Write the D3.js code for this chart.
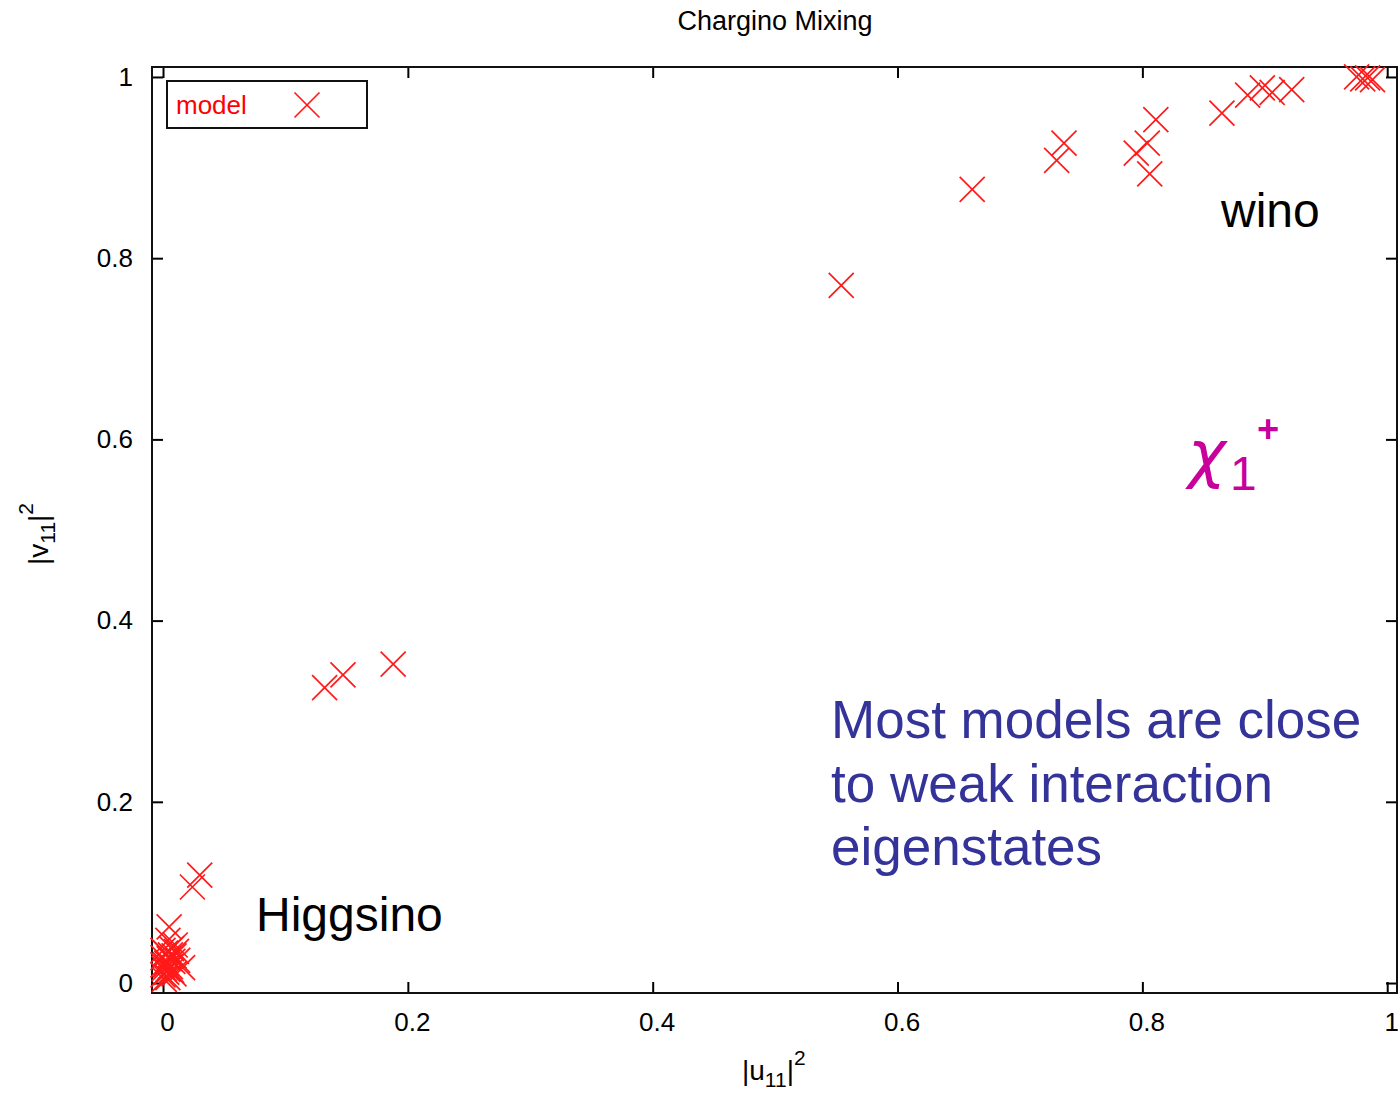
<!DOCTYPE html>
<html lang="en">
<head>
    <meta charset="UTF-8">
    <title>Chargino Mixing</title>
    <script src="https://d3js.org/d3.v7.min.js"></script>
    <style>
        body {
        margin:0;
        background:#fff;
        }
        svg {
        position:absolute;
        top:0px;
        left:0px;
        }
        .tick text {
        font-family:"Liberation Sans", Arial, sans-serif;
        font-size:26px;
        fill:#000;
        }
        .tick line {
        stroke:#000;
        stroke-width:2;
        }
    </style>
</head>
<body>
<svg width="1398" height="1094"></svg>
<script>
    // |u11|^2 and |v11|^2 for each model
    var u11sq = [0.554, 0.661, 0.730, 0.736, 0.795, 0.804, 0.806, 0.811,
                 0.865, 0.886, 0.898, 0.906, 0.922, 0.975, 0.980, 0.984, 0.988,
                 0.132, 0.147, 0.188,
                 0.030, 0.024, 0.005, 0.004, 0.010, 0.000, 0.012, 0.002,
                 0.007, 0.000, 0.006, 0.016, 0.000, 0.004, 0.009, 0.003,
                 0.001, 0.008, 0.011, 0.003, 0.006, 0.000, 0.005, 0.002,
                 0.009, 0.004, 0.007, 0.001];
    var v11sq = [0.770, 0.876, 0.908, 0.927, 0.916, 0.927, 0.893, 0.953,
                 0.960, 0.980, 0.988, 0.983, 0.986, 1.000, 0.998, 0.999, 0.997,
                 0.326, 0.340, 0.352,
                 0.119, 0.106, 0.062, 0.047, 0.042, 0.036, 0.025, 0.020,
                 0.014, 0.028, 0.031, 0.017, 0.009, 0.006, 0.030, 0.022,
                 0.016, 0.024, 0.035, 0.012, 0.018, 0.020, 0.027, 0.033,
                 0.010, 0.015, 0.038, 0.004];
    var tickValues = [0, 0.2, 0.4, 0.6, 0.8, 1];
    var tickLabels = ["0", "0.2", "0.4", "0.6", "0.8", "1"];

    var svg = d3.select('svg');
    var margin = {top: 67, right: 1, bottom: 101, left: 152};
    var width = 1398 - margin.left - margin.right;
    var height = 1094 - margin.top - margin.bottom;

    var g = svg.append("g")
        .attr("transform", "translate(" + margin.left + "," + margin.top + ")");

    var x = d3.scaleLinear().domain([-0.009, 1.008]).range([0, width]);
    var y = d3.scaleLinear().domain([-0.011, 1.011]).range([height, 0]);

    var fmt = function(d) { return tickLabels[tickValues.indexOf(d)]; };

    // gnuplot style: ticks point inward on all four sides
    g.append("g")
        .attr("transform", "translate(0," + height + ")")
        .call(d3.axisBottom(x).tickValues(tickValues).tickFormat(fmt)
            .tickSizeInner(-11).tickSizeOuter(0).tickPadding(20))
        .selectAll("text").attr("dx", 4);
    g.append("g")
        .call(d3.axisTop(x).tickValues(tickValues).tickFormat("")
            .tickSizeInner(-11).tickSizeOuter(0));
    g.append("g")
        .call(d3.axisLeft(y).tickValues(tickValues).tickFormat(fmt)
            .tickSizeInner(-11).tickSizeOuter(0).tickPadding(19));
    g.append("g")
        .attr("transform", "translate(" + width + ",0)")
        .call(d3.axisRight(y).tickValues(tickValues).tickFormat("")
            .tickSizeInner(-11).tickSizeOuter(0));
    g.selectAll(".domain").remove();

    g.append("rect")
        .attr("width", width)
        .attr("height", height)
        .attr("fill", "none")
        .attr("stroke", "#111")
        .attr("stroke-width", 2);

    // crosses
    var h = 12.5;
    var cross = "M" + (-h) + "," + (-h) + "L" + h + "," + h + "M" + (-h) + "," + h + "L" + h + "," + (-h);
    g.append("g")
        .selectAll("path")
        .data(d3.range(u11sq.length))
        .enter()
        .append("path")
        .attr("d", cross)
        .attr("transform", function(i) { return "translate(" + x(u11sq[i]) + "," + y(v11sq[i]) + ")"; })
        .attr("fill", "none")
        .attr("stroke", "#ff1a1a")
        .attr("stroke-width", 1.7);

    // legend
    svg.append("rect")
        .attr("x", 167).attr("y", 81)
        .attr("width", 200).attr("height", 47)
        .attr("fill", "none")
        .attr("stroke", "#111")
        .attr("stroke-width", 2);
    svg.append("text")
        .attr("x", 176).attr("y", 114)
        .attr("font-family", "Liberation Sans, Arial, sans-serif")
        .attr("font-size", 26)
        .attr("fill", "#ff0000")
        .text("model");
    svg.append("path")
        .attr("d", cross)
        .attr("transform", "translate(307,105)")
        .attr("fill", "none")
        .attr("stroke", "#ff1a1a")
        .attr("stroke-width", 1.7);

    // title
    svg.append("text")
        .attr("x", 775).attr("y", 30)
        .attr("text-anchor", "middle")
        .attr("font-family", "Liberation Sans, Arial, sans-serif")
        .attr("font-size", 27)
        .text("Chargino Mixing");

    // axis labels
    var xl = svg.append("text")
        .attr("x", 742).attr("y", 1080)
        .attr("font-family", "Liberation Sans, Arial, sans-serif")
        .attr("font-size", 28);
    xl.append("tspan").text("|u");
    xl.append("tspan").attr("font-size", 21).attr("dy", 7).text("11");
    xl.append("tspan").attr("dy", -7).text("|");
    xl.append("tspan").attr("font-size", 21).attr("dy", -15).text("2");

    var yl = svg.append("text")
        .attr("transform", "translate(48,565) rotate(-90)")
        .attr("font-family", "Liberation Sans, Arial, sans-serif")
        .attr("font-size", 28);
    yl.append("tspan").text("|v");
    yl.append("tspan").attr("font-size", 21).attr("dy", 7).text("11");
    yl.append("tspan").attr("dy", -7).text("|");
    yl.append("tspan").attr("font-size", 21).attr("dy", -15).text("2");

    // annotations
    svg.append("text")
        .attr("x", 1221).attr("y", 227)
        .attr("font-family", "Liberation Sans, Arial, sans-serif")
        .attr("font-size", 48)
        .text("wino");
    svg.append("text")
        .attr("x", 256).attr("y", 931)
        .attr("font-family", "Liberation Sans, Arial, sans-serif")
        .attr("font-size", 48)
        .text("Higgsino");

    var chi = svg.append("text")
        .attr("x", 1188).attr("y", 476)
        .attr("font-family", "DejaVu Sans, sans-serif")
        .attr("fill", "#c8009c");
    chi.append("tspan").attr("font-size", 64).attr("font-style", "italic").text("\u03c7");
    chi.append("tspan").attr("x", 1230).attr("y", 490)
        .attr("font-family", "Liberation Sans, Arial, sans-serif")
        .attr("font-size", 48).text("1");
    chi.append("tspan").attr("x", 1257).attr("y", 442)
        .attr("font-family", "Liberation Sans, Arial, sans-serif")
        .attr("font-weight", "bold")
        .attr("font-size", 38).text("+");

    var note = ["Most models are close", "to weak interaction", "eigenstates"];
    svg.append("g")
        .selectAll("text")
        .data(note)
        .enter()
        .append("text")
        .attr("x", 831)
        .attr("y", function(d, i) { return 738 + i * 63.5; })
        .attr("font-family", "Liberation Sans, Arial, sans-serif")
        .attr("font-size", 53)
        .attr("fill", "#333399")
        .text(function(d) { return d; });
</script>
</body>
</html>
